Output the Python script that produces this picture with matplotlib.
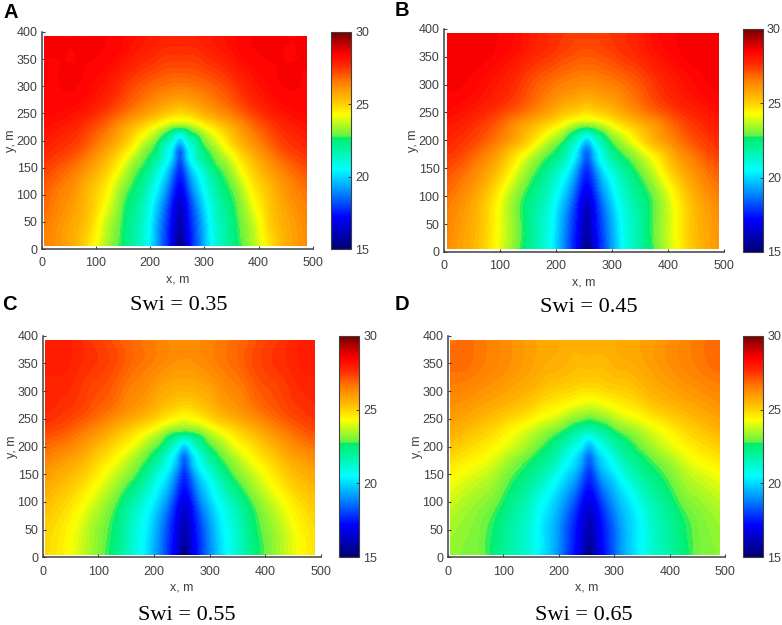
import numpy as np
import matplotlib
matplotlib.use('Agg')
import matplotlib.pyplot as plt
import matplotlib.tri as mtri
from matplotlib.colors import LinearSegmentedColormap, Normalize
from matplotlib.cm import ScalarMappable
from matplotlib.patches import Rectangle

plt.rcParams['font.family'] = ['Liberation Sans', 'DejaVu Sans']

# distance from the well axis (x = 255) and y of the values
dist_nodes = [0, 10, 25, 40, 60, 85, 110, 135, 160, 190, 220, 250]
y_nodes = [5, 50, 100, 150, 175, 200, 225, 250, 300, 350, 392]
well_x = 255

swi_035 = [
    [15.0, 16.3, 17.8, 19.0, 20.6, 21.7, 22.65, 23.4, 24.35, 25.5, 26.0, 26.4],
    [16.0, 16.6, 18.0, 19.2, 20.8, 21.9, 22.85, 23.7, 24.8, 25.6, 26.1, 26.6],
    [16.8, 17.3, 18.8, 20.0, 21.3, 22.4, 23.2, 24.35, 25.1, 25.9, 26.4, 26.9],
    [17.8, 18.6, 20.2, 21.1, 22.3, 23.1, 24.2, 25.1, 25.8, 26.5, 27.0, 27.4],
    [18.4, 19.4, 20.9, 22.0, 22.85, 23.8, 24.8, 25.6, 26.3, 27.0, 27.4, 27.7],
    [19.8, 20.6, 21.7, 22.7, 23.6, 24.6, 25.5, 26.2, 26.8, 27.4, 27.7, 28.0],
    [22.9, 23.0, 23.5, 24.0, 24.6, 25.3, 26.0, 26.7, 27.2, 27.7, 28.0, 28.2],
    [24.8, 24.9, 25.1, 25.4, 25.8, 26.3, 26.8, 27.3, 27.7, 28.1, 28.3, 28.4],
    [26.5, 26.5, 26.6, 26.7, 26.9, 27.2, 27.6, 28.0, 28.3, 28.5, 28.5, 28.5],
    [27.4, 27.4, 27.4, 27.5, 27.7, 27.9, 28.2, 28.4, 28.5, 28.5, 28.5, 28.5],
    [27.8, 27.8, 27.8, 27.9, 28.0, 28.2, 28.4, 28.5, 28.5, 28.5, 28.5, 28.5],
]
swi_045 = [
    [15.0, 16.2, 17.7, 18.8, 20.3, 21.4, 22.4, 23.3, 24.2, 25.2, 25.8, 26.2],
    [16.0, 16.6, 17.9, 19.0, 20.4, 21.5, 22.5, 23.4, 24.3, 25.3, 25.9, 26.4],
    [16.8, 17.2, 18.6, 19.7, 20.9, 21.9, 22.65, 23.5, 24.5, 25.5, 26.2, 26.7],
    [17.8, 18.4, 19.9, 20.9, 21.8, 22.7, 23.5, 24.5, 25.4, 26.2, 26.8, 27.2],
    [18.4, 19.2, 20.7, 21.7, 22.6, 23.3, 24.2, 25.0, 25.9, 26.6, 27.2, 27.5],
    [19.8, 20.5, 21.6, 22.6, 23.4, 24.3, 25.2, 25.9, 26.5, 27.1, 27.5, 27.8],
    [22.9, 23.0, 23.4, 23.9, 24.5, 25.1, 25.7, 26.3, 26.9, 27.4, 27.8, 28.0],
    [24.7, 24.8, 25.0, 25.2, 25.6, 26.1, 26.6, 27.0, 27.4, 27.8, 28.1, 28.3],
    [26.2, 26.2, 26.3, 26.4, 26.6, 26.9, 27.3, 27.7, 28.0, 28.3, 28.5, 28.5],
    [27.0, 27.0, 27.1, 27.2, 27.4, 27.6, 27.9, 28.2, 28.4, 28.6, 28.6, 28.6],
    [27.4, 27.4, 27.4, 27.5, 27.6, 27.8, 28.1, 28.4, 28.5, 28.6, 28.6, 28.6],
]
swi_055 = [
    [15.0, 16.2, 17.5, 18.5, 19.7, 20.8, 21.7, 22.6, 23.2, 23.9, 24.5, 24.9],
    [16.0, 16.5, 17.7, 18.7, 19.9, 20.9, 21.9, 22.75, 23.3, 24.0, 24.6, 25.0],
    [16.8, 17.2, 18.5, 19.5, 20.5, 21.5, 22.4, 23.2, 23.8, 24.5, 25.0, 25.4],
    [17.8, 18.4, 19.8, 20.6, 21.6, 22.7, 23.4, 24.0, 24.6, 25.2, 25.6, 26.0],
    [18.4, 19.2, 20.5, 21.4, 22.4, 23.2, 23.9, 24.5, 25.0, 25.6, 26.0, 26.4],
    [19.8, 20.4, 21.5, 22.4, 23.1, 23.9, 24.5, 25.0, 25.5, 26.1, 26.5, 26.8],
    [22.5, 22.6, 22.9, 23.4, 24.0, 24.6, 25.1, 25.6, 26.1, 26.6, 27.0, 27.2],
    [24.1, 24.2, 24.4, 24.7, 25.1, 25.5, 25.9, 26.3, 26.7, 27.1, 27.4, 27.6],
    [25.5, 25.5, 25.6, 25.7, 26.0, 26.3, 26.6, 27.0, 27.2, 27.5, 27.7, 27.7],
    [26.1, 26.1, 26.2, 26.3, 26.5, 26.7, 27.0, 27.3, 27.5, 27.7, 27.9, 27.9],
    [26.3, 26.3, 26.3, 26.4, 26.5, 26.7, 26.9, 27.2, 27.4, 27.7, 27.9, 27.8],
]
swi_065 = [
    [15.0, 16.0, 17.2, 18.0, 19.2, 20.1, 21.0, 21.6, 22.1, 22.9, 23.1, 23.3],
    [16.0, 16.4, 17.4, 18.2, 19.3, 20.2, 21.1, 21.7, 22.3, 22.9, 23.2, 23.4],
    [16.8, 17.1, 18.1, 18.9, 19.8, 20.6, 21.5, 22.1, 22.75, 23.2, 23.5, 23.8],
    [17.8, 18.3, 19.4, 20.0, 20.8, 21.7, 22.3, 22.8, 23.3, 23.8, 24.1, 24.4],
    [18.4, 19.0, 20.0, 20.6, 21.5, 22.2, 22.75, 23.2, 23.7, 24.2, 24.5, 24.8],
    [19.5, 20.0, 20.8, 21.4, 22.1, 22.75, 23.3, 23.8, 24.2, 24.6, 24.9, 25.2],
    [21.2, 21.4, 21.8, 22.3, 22.85, 23.3, 23.8, 24.2, 24.6, 25.0, 25.3, 25.6],
    [22.8, 22.9, 23.1, 23.4, 23.8, 24.1, 24.5, 24.8, 25.1, 25.4, 25.7, 25.9],
    [24.7, 24.7, 24.8, 24.9, 25.0, 25.2, 25.5, 25.7, 25.9, 26.1, 26.3, 26.4],
    [25.4, 25.4, 25.4, 25.5, 25.6, 25.7, 25.9, 26.1, 26.3, 26.5, 26.7, 26.7],
    [25.6, 25.6, 25.6, 25.6, 25.7, 25.8, 25.9, 26.1, 26.3, 26.5, 26.7, 26.6],
]

panels = [
    ('A', 'Swi = 0.35', swi_035),
    ('B', 'Swi = 0.45', swi_045),
    ('C', 'Swi = 0.55', swi_055),
    ('D', 'Swi = 0.65', swi_065),
]

W, H = 782, 625
# pixel boxes: axes left, right, top, bottom, then colorbar left, right
boxes = [
    (41.7, 312.7, 32, 249, 331, 351),
    (443.7, 724.3, 28.7, 252, 742.7, 762.7),
    (42.7, 320.7, 335.7, 557.3, 339, 359),
    (447.7, 725.3, 335.7, 557.3, 743.3, 763.3),
]
letter_pos = [(3, 12), (395, 11), (2, 305), (395, 305)]
swi_pos = [(179, 306), (589, 307), (187, 615), (584, 615)]
grey = '#404040'

# jet-like map, with the jump to light green the original shows near 22.8
anchors = [(15, (0, 0, 0.45)), (17.2, (0, 0, 1)), (18.8, (0, 0.5, 1)), (20.5, (0, 1, 1)),
           (22.7, (0, 0.93, 0.42)), (22.8, (0.38, 0.95, 0.27)), (24.3, (1, 1, 0)),
           (25.3, (1, 0.75, 0)), (26.5, (1, 0.5, 0)), (27.7, (1, 0.15, 0)),
           (28.5, (1, 0, 0)), (30, (0.45, 0, 0))]
jet_mod = LinearSegmentedColormap.from_list(
    'jet_mod', [((v - 15) / 15, c) for v, c in anchors], N=512)
norm = Normalize(15, 30)
levels = np.linspace(15, 30, 91)


def box_axes(fig, left, right, top, bottom):
    return fig.add_axes([left / W, 1 - bottom / H, (right - left) / W, (bottom - top) / H])


fig = plt.figure(figsize=(W / 100, H / 100), dpi=100)

for (letter, swi, values), box, lp, sp in zip(panels, boxes, letter_pos, swi_pos):
    left, right, top, bottom, cb_l, cb_r = box
    ax = box_axes(fig, left, right, top, bottom)

    # the field is mirrored about the well axis
    half = np.array(values)
    d = np.array(dist_nodes)
    x = np.concatenate([well_x - d[:0:-1], well_x + d])
    z = np.hstack([half[:, :0:-1], half])

    # matplotlib's tri refiner rounds off the kinks of the coarse table
    xx, yy = np.meshgrid(x, y_nodes)
    tri = mtri.Triangulation(xx.ravel(), yy.ravel())
    refiner = mtri.UniformTriRefiner(tri)
    tri_fine, z_fine = refiner.refine_field(z.ravel(), subdiv=3)
    cs = ax.tricontourf(tri_fine, z_fine, levels=levels, cmap=jet_mod, norm=norm, extend='both')
    cs.set_clip_path(Rectangle((5, 5), 485, 387, transform=ax.transData))

    ax.set_xlim(0, 500)
    ax.set_ylim(0, 400)
    ax.set_xticks(range(0, 501, 100))
    ax.set_yticks(range(0, 401, 50))
    ax.spines['top'].set_visible(False)
    ax.spines['right'].set_visible(False)
    for s in ('left', 'bottom'):
        ax.spines[s].set_color(grey)
        ax.spines[s].set_linewidth(1.1)
    ax.tick_params(direction='in', length=2.5, width=0.8, color=grey,
                   labelcolor=grey, labelsize=9, pad=3)
    ax.tick_params(axis='x', pad=6)
    ax.set_xlabel('x, m', color=grey, fontsize=9, labelpad=3)
    ax.set_ylabel('y, m', color=grey, fontsize=9, labelpad=0)

    cax = box_axes(fig, cb_l, cb_r, top, bottom)
    cb = fig.colorbar(ScalarMappable(norm=norm, cmap=jet_mod), cax=cax)
    cb.set_ticks([15, 20, 25, 30])
    cb.ax.tick_params(direction='in', length=2, width=0.7, color=grey,
                      labelcolor=grey, labelsize=9, pad=3)
    cb.outline.set_edgecolor(grey)
    cb.outline.set_linewidth(0.8)

    fig.text(lp[0] / W, 1 - lp[1] / H, letter, fontsize=14.5, fontweight='bold',
             color='black', ha='left', va='center')
    fig.text(sp[0] / W, 1 - sp[1] / H, swi, fontsize=16, family=['Liberation Serif'],
             color='black', ha='center', va='center')

fig.savefig('out.png', dpi=100)
